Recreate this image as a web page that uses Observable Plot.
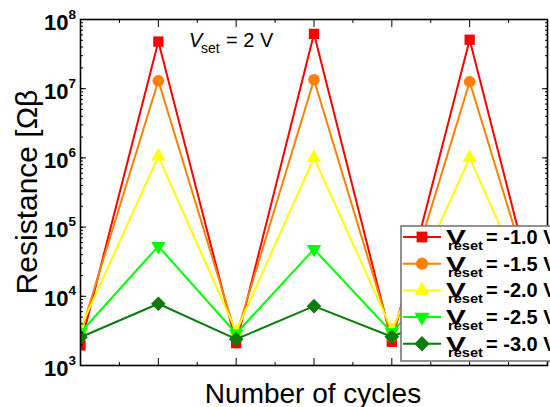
<!DOCTYPE html>
<html><head><meta charset="utf-8">
<script src="https://cdn.jsdelivr.net/npm/d3@7"></script>
<script src="https://cdn.jsdelivr.net/npm/@observablehq/plot@0.6"></script>
<style>
html,body{margin:0;padding:0;background:#fff;overflow:hidden}
#chart{position:relative;width:550px;height:407px;overflow:hidden;font-family:"Liberation Sans",Arial,sans-serif}
</style></head><body><div id="chart"></div>
<script>
// ---- data ----
const cycles = [1, 2, 3, 4, 5, 6, 7];
const vResetLabels = ["-1.0", "-1.5", "-2.0", "-2.5", "-3.0"];
const resistRed       = [1.95e3, 4.8e7, 2.1e3, 6.2e7, 2.2e3, 5.1e7, 2.0e3];
const resistOrange    = [2.9e3, 1.3e7, 2.7e3, 1.35e7, 2.6e3, 1.26e7, 2.6e3];
const resistYellow    = [3.5e3, 1.05e6, 3.1e3, 1.0e6, 3.3e3, 1.0e6, 3.0e3];
const resistGreen     = [3.0e3, 5.3e4, 2.9e3, 4.8e4, 3.0e3, 5.0e4, 2.8e3];
const resistDarkGreen = [2.56e3, 7.8e3, 2.4e3, 7.2e3, 2.6e3, 7.5e3, 2.4e3];
const yTickValues = [1e3, 1e4, 1e5, 1e6, 1e7, 1e8];
const yTickBase = ["10", "10", "10", "10", "10", "10"];
const yTickExponents = ["3", "4", "5", "6", "7", "8"];
const xMajorTicks = [1, 2, 3, 4, 5, 6, 7];
const xMinorTicks = [1.5, 2.5, 3.5, 4.5, 5.5, 6.5];

// ---- styles ----
const triangleDown = {
  draw(ctx, size) {
    const s3 = Math.sqrt(3);
    const y = -Math.sqrt(size / (s3 * 3));
    ctx.moveTo(0, -y * 2);
    ctx.lineTo(-s3 * y, y);
    ctx.lineTo(s3 * y, y);
    ctx.closePath();
  }
};
const seriesValues = [resistRed, resistOrange, resistYellow, resistGreen, resistDarkGreen];
const seriesColors = ["#ff0000", "#ff8000", "#ffff00", "#00ff00", "#0a7d0a"];
const seriesSymbols = ["square", "circle", "triangle", triangleDown, "diamond2"];
const seriesR = [5.8, 5.8, 5.3, 5.3, 6.6];

const series = vResetLabels.map((name, i) => ({
  name, color: seriesColors[i], symbol: seriesSymbols[i], r: seriesR[i],
  data: cycles.map((c, j) => ({cycle: c, value: seriesValues[i][j]}))
}));

const yMinor = d3.scaleLog().domain([1e3, 1e8]).ticks();
const yLabels = yTickValues.map((v, i) => ({v, base: yTickBase[i], exp: yTickExponents[i]}));

const marks = [];
series.forEach(s => {
  marks.push(Plot.line(s.data, {x: "cycle", y: "value", stroke: s.color, strokeWidth: 2, clip: true}));
  marks.push(Plot.dot(s.data, {x: "cycle", y: "value", fill: s.color, symbol: s.symbol, r: s.r, clip: true}));
});

const blank = () => "";
marks.push(
  Plot.axisY({anchor: "left", ticks: yMinor, tickSize: -3, tickFormat: blank, label: null}),
  Plot.axisY({anchor: "left", ticks: yTickValues, tickSize: -6, tickFormat: blank, label: null}),
  Plot.axisY({anchor: "right", ticks: yMinor, tickSize: -3, tickFormat: blank, label: null}),
  Plot.axisY({anchor: "right", ticks: yTickValues, tickSize: -6, tickFormat: blank, label: null}),
  Plot.axisX({anchor: "bottom", ticks: xMajorTicks, tickSize: -7, tickFormat: blank, label: null}),
  Plot.axisX({anchor: "bottom", ticks: xMinorTicks, tickSize: -3, tickFormat: blank, label: null}),
  Plot.axisX({anchor: "top", ticks: xMajorTicks, tickSize: -7, tickFormat: blank, label: null}),
  Plot.axisX({anchor: "top", ticks: xMinorTicks, tickSize: -3, tickFormat: blank, label: null}),
  Plot.text(yLabels, {y: "v", text: "base", frameAnchor: "left", dx: -12, dy: 10, textAnchor: "end", lineAnchor: "bottom", fontSize: 22, fontWeight: "bold", fill: "black"}),
  Plot.text(yLabels, {y: "v", text: "exp", frameAnchor: "left", dx: -12, dy: -1, textAnchor: "start", lineAnchor: "bottom", fontSize: 13.5, fontWeight: "bold", fill: "black"}),
  Plot.frame({stroke: "black", strokeWidth: 1.6})
);

const plot = Plot.plot({
  width: 550, height: 407,
  marginLeft: 80, marginRight: 3, marginTop: 19, marginBottom: 42,
  style: {fontFamily: '"Liberation Sans", Arial, sans-serif', background: "white", overflow: "visible"},
  x: {domain: [1, 7], axis: null},
  y: {type: "log", domain: [1e3, 1e8], axis: null},
  marks
});

const svg = d3.select(plot);
function addText(parent, x, y, str, size, opts = {}) {
  const t = parent.append("text").attr("x", x).attr("y", y).attr("font-size", size)
    .attr("fill", "black").attr("text-anchor", opts.anchor || "start").text(str);
  if (opts.weight) t.attr("font-weight", opts.weight);
  if (opts.style) t.attr("font-style", opts.style);
  if (opts.len) t.attr("textLength", opts.len).attr("lengthAdjust", "spacingAndGlyphs");
  return t;
}

// y-axis title
svg.append("text")
  .attr("transform", "translate(37,192) rotate(-90)")
  .attr("text-anchor", "middle")
  .attr("font-size", 30)
  .attr("fill", "black")
  .text("Resistance [Ωβ");

// x-axis title
addText(svg, 313, 403, "Number of cycles", 28, {anchor: "middle"});

// annotation V_set = 2 V
addText(svg, 189, 47, "V", 20, {style: "italic"});
addText(svg, 201, 53, "set", 14);
addText(svg, 226, 47, "= 2 V", 20);

// legend
const lg = svg.append("g");
lg.append("rect").attr("x", 401).attr("y", 226).attr("width", 170).attr("height", 135)
  .attr("fill", "white").attr("stroke", "#777").attr("stroke-width", 1.6);
const symMap = {square: d3.symbolSquare, circle: d3.symbolCircle, triangle: d3.symbolTriangle, diamond2: d3.symbolDiamond2};
series.forEach((s, i) => {
  const base = 244 + i * 26.7;
  const cy = base - 7;
  lg.append("line").attr("x1", 403).attr("x2", 441).attr("y1", cy).attr("y2", cy)
    .attr("stroke", s.color).attr("stroke-width", 2);
  const sym = typeof s.symbol === "string" ? symMap[s.symbol] : s.symbol;
  lg.append("path").attr("transform", `translate(422,${cy})`)
    .attr("d", d3.symbol(sym, Math.PI * s.r * s.r * 1.1)()).attr("fill", s.color);
  addText(lg, 446, base, "V", 21, {weight: "bold", len: 20});
  addText(lg, 448, base + 6, "reset", 13, {weight: "bold", len: 35});
  addText(lg, 486, base, "= " + s.name + " V", 20, {weight: "bold"});
});

document.getElementById("chart").appendChild(plot);
</script>
</body></html>
